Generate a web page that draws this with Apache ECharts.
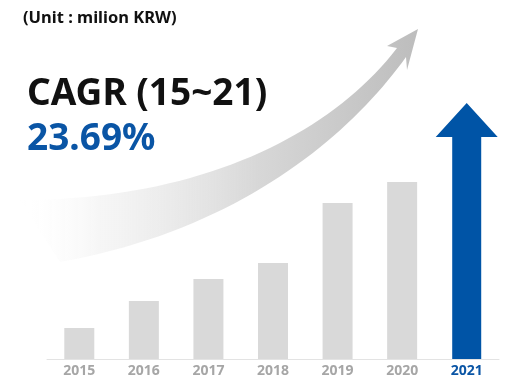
<!DOCTYPE html>
<html><head><meta charset="utf-8">
<script src="https://cdn.jsdelivr.net/npm/echarts@6/dist/echarts.min.js"></script>
<style>html,body{margin:0;padding:0;background:#fff}#c{width:531px;height:386px}</style>
</head><body><div id="c"></div>
<script>
const categories = ['2015','2016','2017','2018','2019','2020','2021'];
const barValues = [31, 58, 80, 96, 156, 177, null];
const arrowValues = [null, null, null, null, null, null, 256];
const unitText = '(Unit : milion KRW)';
const cagrTitle = 'CAGR (15~21)';
const cagrValue = '23.69%';

function cubic(p0,p1,p2,p3,n){
  const pts=[];
  for(let i=0;i<=n;i++){const t=i/n,u=1-t;
    pts.push([u*u*u*p0[0]+3*u*u*t*p1[0]+3*u*t*t*p2[0]+t*t*t*p3[0],
              u*u*u*p0[1]+3*u*u*t*p1[1]+3*u*t*t*p2[1]+t*t*t*p3[1]]);}
  return pts;
}
const topEdge = cubic([20,200],[200,200],[330,135],[397,48],40);
const botEdge = cubic([406,57],[350,135],[240,230],[60,262],40);
const swoosh = topEdge.concat([[387,46],[418,29],[407,70]], botEdge);

const chart = echarts.init(document.getElementById('c'));
chart.setOption({
  animation:false,
  grid:{left:47,right:32,top:99,bottom:27},
  xAxis:{type:'category',data:categories,
    axisLine:{lineStyle:{color:'#e3e3e3',width:1}},axisTick:{show:false},
    axisLabel:{interval:0,margin:5,fontFamily:'Noto Sans',fontWeight:'bold',fontSize:14,
      color:function(v){return v==='2021'?'#0a55a5':'#a6a6a6';}}},
  yAxis:{type:'value',min:0,max:260,show:false,splitLine:{show:false}},
  graphic:[
    {type:'polygon',z:0,shape:{points:swoosh},
     style:{fill:{type:'linear',x:0,y:0,x2:1,y2:0,colorStops:[
       {offset:0,color:'rgba(255,255,255,0)'},
       {offset:0.2,color:'rgba(240,240,240,0.6)'},
       {offset:0.6,color:'rgba(215,215,215,1)'},
       {offset:1,color:'#bdbdbd'}]}}},
    {type:'text',left:23,top:10,z:10,style:{text:unitText,fontFamily:'Noto Sans',fontWeight:'bold',fontSize:16.5,fill:'#111'}},
    {type:'text',left:27,top:76,z:10,style:{text:cagrTitle,fontFamily:'Noto Sans',fontWeight:'bold',fontSize:37,fill:'#111'}},
    {type:'text',left:27,top:121,z:10,style:{text:cagrValue,fontFamily:'Noto Sans',fontWeight:'bold',fontSize:37,fill:'#0a55a5'}}
  ],
  series:[
    {type:'bar',data:barValues,barWidth:30,z:3,itemStyle:{color:'#d9d9d9'},silent:true},
    {type:'custom',z:4,data:arrowValues.map((v,i)=>[i,v]),
     renderItem:function(params,api){
       const v=api.value(1); if(v==null||isNaN(v)) return null;
       const i=api.value(0);
       const tip=api.coord([i,v]); const base=api.coord([i,0]);
       const sw=29/2, hw=62/2, hh=34;
       const x=tip[0];
       return {type:'polygon',shape:{points:[
         [x-sw,base[1]],[x-sw,tip[1]+hh],[x-hw,tip[1]+hh],[x,tip[1]],
         [x+hw,tip[1]+hh],[x+sw,tip[1]+hh],[x+sw,base[1]]]},
         style:{fill:'#0054a6'}};
     }}
  ]
});
</script></body></html>
